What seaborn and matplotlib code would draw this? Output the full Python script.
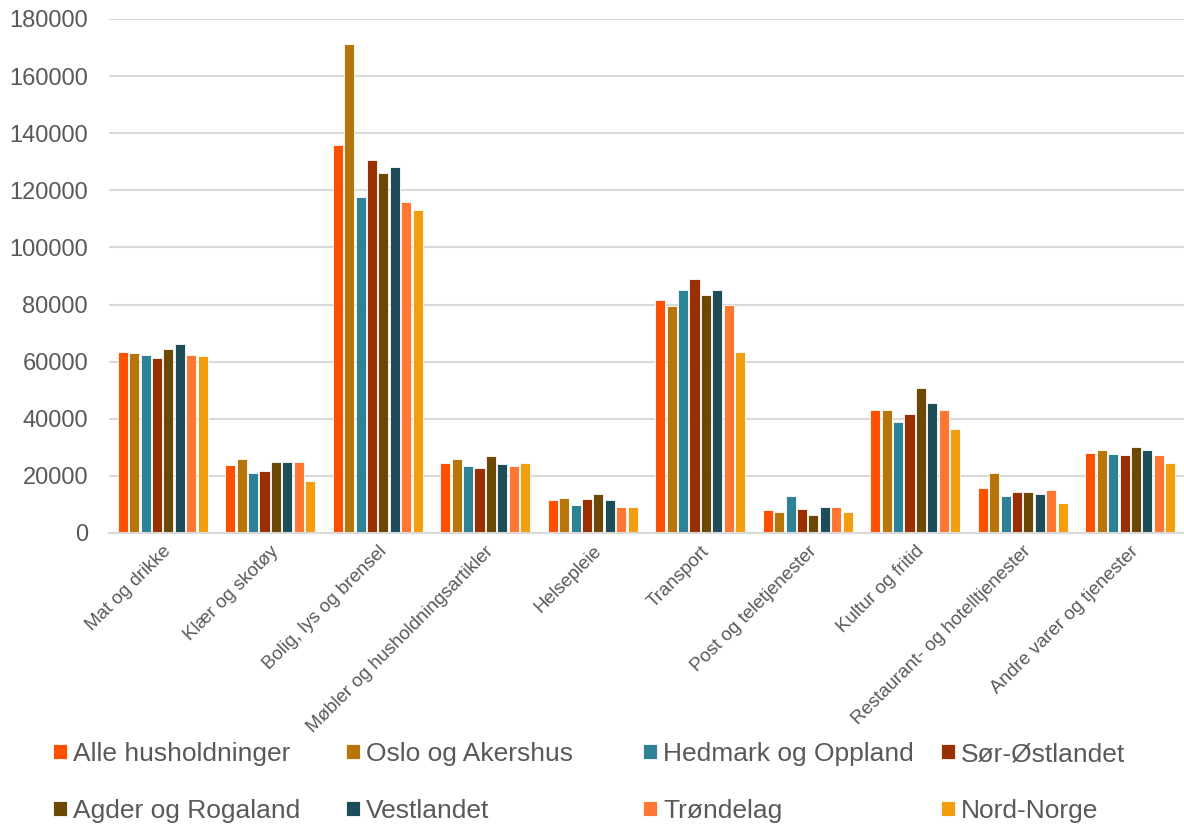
import pandas as pd
import matplotlib.pyplot as plt
import seaborn as sns

# kategorier og regioner
categories = ['Mat og drikke', 'Klær og skotøy', 'Bolig, lys og brensel',
              'Møbler og husholdningsartikler', 'Helsepleie', 'Transport',
              'Post og teletjenester', 'Kultur og fritid',
              'Restaurant- og hotelltjenester', 'Andre varer og tjenester']
regions = ['Alle husholdninger', 'Oslo og Akershus', 'Hedmark og Oppland', 'Sør-Østlandet',
           'Agder og Rogaland', 'Vestlandet', 'Trøndelag', 'Nord-Norge']

alle = [63200, 23800, 136000, 24500, 11500, 81500, 8200, 43200, 15600, 28000]
oslo = [63000, 26000, 171200, 25800, 12200, 79500, 7200, 43200, 21000, 29000]
hedmark = [62200, 21000, 117800, 23500, 9800, 85200, 12900, 39000, 12800, 27600]
sor_ost = [61200, 21800, 130500, 22800, 12000, 88800, 8400, 41500, 14500, 27200]
agder = [64500, 25000, 126000, 27000, 13600, 83200, 6300, 50800, 14500, 30000]
vest = [66200, 25000, 128000, 24000, 11400, 85200, 9000, 45500, 13500, 29000]
trond = [62200, 24800, 115800, 23500, 9000, 79800, 9200, 43000, 15000, 27200]
nord = [62000, 18200, 113000, 24400, 9000, 63500, 7300, 36500, 10500, 24500]

colors = ['#FF5000', '#B8760A', '#2E8296', '#9A3000', '#6B4905', '#1E4D5A', '#FF7733', '#F29E0F']

series = [alle, oslo, hedmark, sor_ost, agder, vest, trond, nord]
rows = []
for region, vals in zip(regions, series):
    for cat, v in zip(categories, vals):
        rows.append({'kategori': cat, 'region': region, 'verdi': v})
data = pd.DataFrame(rows)

sns.set_style('white')
plt.rcParams['font.family'] = ['Liberation Sans', 'DejaVu Sans']
text_color = '#595959'

fig = plt.figure(figsize=(11.84, 8.25), dpi=100)
ax = fig.add_axes([0.092, 0.354, 0.908, 0.623])

sns.barplot(data=data, x='kategori', y='verdi', hue='region', order=categories,
            hue_order=regions, palette=colors, saturation=1, width=0.85, gap=0.12,
            edgecolor='white', linewidth=0.6, ax=ax, legend=True)

ax.set_ylim(0, 180000)
ax.set_xlim(-0.5, 9.5)
ax.set_yticks(range(0, 180001, 20000))
ax.yaxis.grid(True, color='#D9D9D9', linewidth=1.5)
ax.set_axisbelow(True)
for s in ['left', 'right', 'top']:
    ax.spines[s].set_visible(False)
ax.spines['bottom'].set_color('#D9D9D9')
ax.spines['bottom'].set_linewidth(1.5)
ax.tick_params(axis='y', labelsize=17, colors=text_color, length=0, pad=15)
ax.tick_params(axis='x', labelsize=13.5, colors=text_color, length=0, pad=7)
ax.set_xlabel('')
ax.set_ylabel('')
plt.setp(ax.get_xticklabels(), rotation=45, ha='right', rotation_mode='anchor')

# legenden i fire kolonner, fylt radvis
handles, labels = ax.get_legend_handles_labels()
ax.get_legend().remove()
col_x = [53, 346, 643, 941]
for i, x in enumerate(col_x):
    fig.legend([handles[i], handles[i + 4]], [labels[i], labels[i + 4]],
               loc='upper left', bbox_to_anchor=(x / 1184, 1 - 742 / 825),
               frameon=False, fontsize=19, labelcolor=text_color,
               handlelength=0.53, handleheight=0.53, handletextpad=0.23,
               labelspacing=1.25, borderpad=0, borderaxespad=0)

plt.savefig('out.png', dpi=100)
